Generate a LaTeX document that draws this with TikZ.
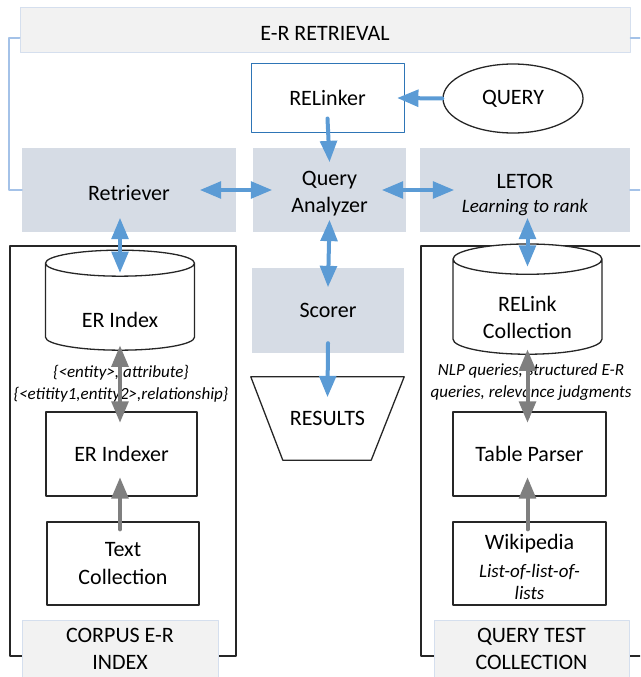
\documentclass[tikz,border=0pt]{standalone}
\usepackage{fontspec}
\setmainfont{Carlito}
\usepackage{tikz}
\usetikzlibrary{arrows}
\usetikzlibrary{shapes.geometric}
\definecolor{arrblue}{HTML}{5B9BD5}
\definecolor{arrgray}{HTML}{7F7F7F}
\definecolor{compfill}{HTML}{D6DCE5}
\definecolor{labfill}{HTML}{F2F2F2}
\definecolor{labline}{HTML}{D5DFEE}
\definecolor{brline}{HTML}{A4C2E8}
\definecolor{linkline}{HTML}{2E75B6}
\definecolor{boxline}{HTML}{262626}

\begin{document}
\begin{tikzpicture}[x=1pt,y=-1pt,line cap=round,line join=round,>=triangle 45,
    font=\fontsize{22}{27.5}\selectfont,
    comp/.style={fill=compfill,inner sep=0pt,align=center,minimum height=84pt},
    blk/.style={draw=boxline,line width=1.3pt,fill=white,inner sep=0pt,align=center},
    lab/.style={draw=labline,line width=1pt,fill=labfill,inner sep=0pt,align=center},
    db/.style={draw=boxline,line width=1.3pt,fill=white,shape=cylinder,shape border rotate=90,
      aspect=0.34,minimum width=149pt,minimum height=100pt,inner sep=0pt,align=center},
    cont/.style={draw=boxline,line width=1.3pt,inner sep=0pt},
    note/.style={font=\fontsize{17}{22}\selectfont\itshape,align=center,inner sep=0pt},
    barr/.style={color=arrblue,line width=4pt},
    garr/.style={color=arrgray,line width=4pt},
    brk/.style={draw=brline,line width=2pt}]
      \clip(0.,0.) rectangle (640.,677.);
      % top row
      \node[lab,minimum width=610pt,minimum height=45pt,text height=20pt] (title) at (325,30.5) {E-R RETRIEVAL};
      \node[draw=linkline,line width=1pt,minimum width=153pt,minimum height=68pt,inner sep=0pt] (relinker) at (327.5,98) {RELinker};
      \node[draw=boxline,line width=1.3pt,ellipse,minimum width=140pt,minimum height=69pt,inner sep=0pt] (query) at (513,98.5) {QUERY};
      \node[comp,minimum width=214pt,text height=21pt] (retr) at (129,190) {Retriever};
      \node[comp,minimum width=153pt,text height=49.5pt] (qa) at (329.5,190) {Query\\Analyzer};
      \node[comp,minimum width=210pt,text height=48.5pt] (letor) at (525,190) {LETOR\\[-3pt]{\fontsize{19}{22}\selectfont\itshape Learning to rank}};
      \draw[brk] ([yshift=-8]title.west) -- ++(-11,0) |- (retr.west);
      \draw[brk] ([yshift=-8]title.east) -- ++(20,0) |- (letor.east);
      % containers
      \node[cont,minimum width=226pt,minimum height=410pt] (corpus) at (123,451) {};
      \node[cont,minimum width=240pt,minimum height=410pt] (qtest) at (541,451) {};
      % left column
      \node[db,text height=42pt] (erindex) at (120,307) {ER Index};
      \node[blk,minimum width=151pt,minimum height=84pt] (erindexer) at (121.5,454) {ER Indexer};
      \node[blk,minimum width=152pt,minimum height=83pt] (textcoll) at (123,563.5) {Text\\Collection};
      \node[lab,minimum width=196pt,minimum height=58pt] (corplab) at (120,649) {CORPUS E-R\\INDEX};
      \node[note] (ernote) at (121,384) {\{<entity>, attribute\}\\\{<etitity1,entity2>,relationship\}};
      % middle column
      \node[comp,minimum width=152pt,minimum height=85pt] (scorer) at (328,310.5) {Scorer};
      \node[minimum width=153pt,minimum height=83pt,inner sep=0pt] (results) at (327.5,418.5) {RESULTS};
      \draw[draw=boxline,line width=1.3pt] (results.north west) -- (results.north east)
        -- ([xshift=-33]results.south east) -- ([xshift=32]results.south west) -- cycle;
      % right column
      \node[db,text height=64pt] (relink) at (527.5,307) {RELink\\Collection};
      \node[blk,minimum width=153pt,minimum height=84pt] (tparser) at (529.5,454) {Table Parser};
      \node[blk,minimum width=153pt,minimum height=83pt,text height=73pt] (wiki) at (529.5,563.5) {Wikipedia\\[0.5pt]{\fontsize{19}{22}\selectfont\itshape List-of-list-of-}\\[-5.5pt]{\fontsize{19}{22}\selectfont\itshape lists}};
      \node[lab,minimum width=195pt,minimum height=58pt] (qlab) at (531.5,649) {QUERY TEST\\COLLECTION};
      \node[note] (relnote) at (531,382) {NLP queries, structured E-R\\queries, relevance judgments};
      % arrows
      \draw[barr,->] (query.west) -- ([xshift=-7]relinker.east);
      \draw[barr,->] ([yshift=14]relinker.south) -- ([yshift=-14]qa.north);
      \draw[barr,<->] ([xshift=-36]retr.east) -- ([xshift=19]qa.west);
      \draw[barr,<->] ([xshift=-24]qa.east) -- ([xshift=34]letor.west);
      \draw[barr,<->] ([yshift=14]erindex.north |- retr.south) -- ([yshift=-23]erindex.north);
      \draw[barr,<->] ([yshift=12]qa.south) -- ([yshift=-19]scorer.north);
      \draw[barr,->] ([yshift=10]scorer.south) -- ([yshift=-20]results.north);
      \draw[barr,<->] ([yshift=14]relink.north |- letor.south) -- ([yshift=-23]relink.north);
      \draw[garr,<->] ([yshift=5]erindex.south) -- ([yshift=-11]erindex.south |- erindexer.north);
      \draw[garr,->] ([yshift=-8]erindex.south |- textcoll.north) -- ([yshift=19]erindex.south |- erindexer.south);
      \draw[garr,<->] ([yshift=5]relink.south) -- ([yshift=-11]relink.south |- tparser.north);
      \draw[garr,->] ([yshift=-8]relink.south |- wiki.north) -- ([yshift=19]relink.south |- tparser.south);
    \end{tikzpicture}
\end{document}
